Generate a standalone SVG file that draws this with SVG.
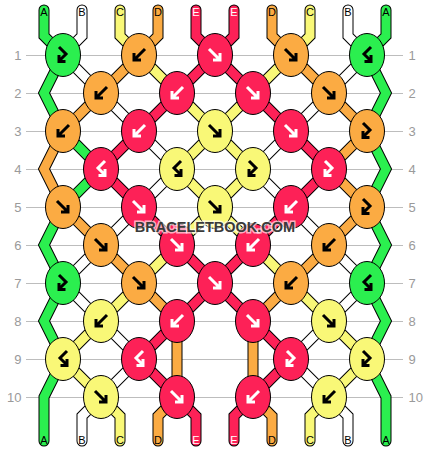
<svg xmlns="http://www.w3.org/2000/svg" xmlns:xlink="http://www.w3.org/1999/xlink" width="430" height="452" viewBox="0 0 430 452">
<style>
.grid{stroke:#bdbdbd;stroke-width:1}
.rn{font-family:"Liberation Sans",Arial,sans-serif;font-size:13px;fill:#9a9a9a}
.rl{text-anchor:end}
.lbl{font-family:"Liberation Sans",Arial,sans-serif;font-size:11px;text-anchor:middle;fill:#000}
.lw{fill:#fff}
.out{fill:none;stroke:#000;stroke-width:11;stroke-linecap:round;stroke-linejoin:miter}
.th{fill:none;stroke-width:9;stroke-linecap:round;stroke-linejoin:miter}
.cA{stroke:#2bef4f}.cB{stroke:#ffffff}.cC{stroke:#f9f877}.cD{stroke:#fbab43}.cE{stroke:#fd2157}
.k{stroke:#000;stroke-width:1}
.kA{fill:#2bef4f}.kC{fill:#f9f877}.kD{fill:#fbab43}.kE{fill:#fd2157}
.ab{fill:none;stroke:#000;stroke-width:3;stroke-linejoin:miter}
.aw{fill:none;stroke:#fff;stroke-width:3;stroke-linejoin:miter}
.wm{font-family:"Liberation Sans",Arial,sans-serif;font-weight:bold;font-size:14.5px;text-anchor:middle;fill:#3a3a3a;stroke:#fff;stroke-opacity:0.65;stroke-width:3;paint-order:stroke}
</style>
<defs>
<g id="f"><path d="M-6,-6 L4,4 M5,-2 V5 H-2"/></g>
<g id="b"><path d="M6,-6 L-4,4 M-5,-2 V5 H2"/></g>
<g id="fb"><path d="M-4,-8 L3,-1 L-3,5 M-4,0 V6.5 H2.5"/></g>
<g id="bf"><path d="M4,-8 L-3,-1 L3,5 M4,0 V6.5 H-2.5"/></g>
<path id="sA1" d="M44,10 V36 L63,55 L44,93 L63,131 L101,169 L63,207 L44,245 L63,283 L44,321 L63,359 L44,397 V441"/>
<path id="sB1" d="M82,10 V36 L63,55 L101,93 L139,131 L177,169 L139,207 L101,245 L63,283 L101,321 L139,359 L101,397 L82,416 V441"/>
<path id="sC1" d="M120,10 V36 L139,55 L177,93 L215,131 L253,169 L215,207 L177,245 L139,283 L101,321 L63,359 L101,397 L120,416 V441"/>
<path id="sD1" d="M158,10 V36 L139,55 L101,93 L63,131 L44,169 L63,207 L101,245 L139,283 L177,321 L177,397 L158,416 V441"/>
<path id="sE1" d="M196,10 V36 L215,55 L253,93 L291,131 L329,169 L291,207 L253,245 L215,283 L177,321 L139,359 L177,397 L196,416 V441"/>
<path id="sE2" d="M234,10 V36 L215,55 L177,93 L139,131 L101,169 L139,207 L177,245 L215,283 L253,321 L291,359 L253,397 L234,416 V441"/>
<path id="sD2" d="M272,10 V36 L291,55 L329,93 L367,131 L329,169 L367,207 L329,245 L291,283 L253,321 L253,397 L272,416 V441"/>
<path id="sC2" d="M310,10 V36 L291,55 L253,93 L215,131 L177,169 L215,207 L253,245 L291,283 L329,321 L367,359 L329,397 L310,416 V441"/>
<path id="sB2" d="M348,10 V36 L367,55 L329,93 L291,131 L253,169 L291,207 L329,245 L367,283 L329,321 L291,359 L329,397 L348,416 V441"/>
<path id="sA2" d="M386,10 V36 L367,55 L386,93 L367,131 L386,169 L367,207 L386,245 L367,283 L386,321 L367,359 L386,397 V441"/>
</defs>
<rect width="430" height="452" fill="#fff"/>
<g id="rows">
<path class="grid" d="M26,55.5 H403 M26,93.5 H403 M26,131.5 H403 M26,169.5 H403 M26,207.5 H403 M26,245.5 H403 M26,283.5 H403 M26,321.5 H403 M26,359.5 H403 M26,397.5 H403"/>
<text class="rn rl" x="21.5" y="60">1</text><text class="rn rl" x="21.5" y="98">2</text><text class="rn rl" x="21.5" y="136">3</text><text class="rn rl" x="21.5" y="174">4</text><text class="rn rl" x="21.5" y="212">5</text><text class="rn rl" x="21.5" y="250">6</text><text class="rn rl" x="21.5" y="288">7</text><text class="rn rl" x="21.5" y="326">8</text><text class="rn rl" x="21.5" y="364">9</text><text class="rn rl" x="21.5" y="402">10</text>
<text class="rn" x="408.5" y="60">1</text><text class="rn" x="408.5" y="98">2</text><text class="rn" x="408.5" y="136">3</text><text class="rn" x="408.5" y="174">4</text><text class="rn" x="408.5" y="212">5</text><text class="rn" x="408.5" y="250">6</text><text class="rn" x="408.5" y="288">7</text><text class="rn" x="408.5" y="326">8</text><text class="rn" x="408.5" y="364">9</text><text class="rn" x="408.5" y="402">10</text>
</g>
<g id="threads">
<use href="#sA1" class="out"/><use href="#sA1" class="th cA"/>
<use href="#sB1" class="out"/><use href="#sB1" class="th cB"/>
<use href="#sC1" class="out"/><use href="#sC1" class="th cC"/>
<use href="#sD1" class="out"/><use href="#sD1" class="th cD"/>
<use href="#sE1" class="out"/><use href="#sE1" class="th cE"/>
<use href="#sE2" class="out"/><use href="#sE2" class="th cE"/>
<use href="#sD2" class="out"/><use href="#sD2" class="th cD"/>
<use href="#sC2" class="out"/><use href="#sC2" class="th cC"/>
<use href="#sB2" class="out"/><use href="#sB2" class="th cB"/>
<use href="#sA2" class="out"/><use href="#sA2" class="th cA"/>
</g>
<g id="labels">
<text class="lbl" x="44" y="16">A</text><text class="lbl" x="82" y="16">B</text><text class="lbl" x="120" y="16">C</text><text class="lbl" x="158" y="16">D</text><text class="lbl lw" x="196" y="16">E</text><text class="lbl lw" x="234" y="16">E</text><text class="lbl" x="272" y="16">D</text><text class="lbl" x="310" y="16">C</text><text class="lbl" x="348" y="16">B</text><text class="lbl" x="386" y="16">A</text>
<text class="lbl" x="44" y="444">A</text><text class="lbl" x="82" y="444">B</text><text class="lbl" x="120" y="444">C</text><text class="lbl" x="158" y="444">D</text><text class="lbl lw" x="196" y="444">E</text><text class="lbl lw" x="234" y="444">E</text><text class="lbl" x="272" y="444">D</text><text class="lbl" x="310" y="444">C</text><text class="lbl" x="348" y="444">B</text><text class="lbl" x="386" y="444">A</text>
</g>
<g id="knots">
<g id="k1-1"><ellipse class="k kA" cx="63" cy="55" rx="17.5" ry="21.5"/><use href="#fb" class="ab" x="63" y="55"/></g>
<g id="k1-2"><ellipse class="k kD" cx="139" cy="55" rx="17.5" ry="21.5"/><use href="#b" class="ab" x="139" y="55"/></g>
<g id="k1-3"><ellipse class="k kE" cx="215" cy="55" rx="17.5" ry="21.5"/><use href="#f" class="aw" x="215" y="55"/></g>
<g id="k1-4"><ellipse class="k kD" cx="291" cy="55" rx="17.5" ry="21.5"/><use href="#f" class="ab" x="291" y="55"/></g>
<g id="k1-5"><ellipse class="k kA" cx="367" cy="55" rx="17.5" ry="21.5"/><use href="#bf" class="ab" x="367" y="55"/></g>
<g id="k2-1"><ellipse class="k kD" cx="101" cy="93" rx="17.5" ry="21.5"/><use href="#b" class="ab" x="101" y="93"/></g>
<g id="k2-2"><ellipse class="k kE" cx="177" cy="93" rx="17.5" ry="21.5"/><use href="#b" class="aw" x="177" y="93"/></g>
<g id="k2-3"><ellipse class="k kE" cx="253" cy="93" rx="17.5" ry="21.5"/><use href="#f" class="aw" x="253" y="93"/></g>
<g id="k2-4"><ellipse class="k kD" cx="329" cy="93" rx="17.5" ry="21.5"/><use href="#f" class="ab" x="329" y="93"/></g>
<g id="k3-1"><ellipse class="k kD" cx="63" cy="131" rx="17.5" ry="21.5"/><use href="#b" class="ab" x="63" y="131"/></g>
<g id="k3-2"><ellipse class="k kE" cx="139" cy="131" rx="17.5" ry="21.5"/><use href="#b" class="aw" x="139" y="131"/></g>
<g id="k3-3"><ellipse class="k kC" cx="215" cy="131" rx="17.5" ry="21.5"/><use href="#f" class="ab" x="215" y="131"/></g>
<g id="k3-4"><ellipse class="k kE" cx="291" cy="131" rx="17.5" ry="21.5"/><use href="#f" class="aw" x="291" y="131"/></g>
<g id="k3-5"><ellipse class="k kD" cx="367" cy="131" rx="17.5" ry="21.5"/><use href="#fb" class="ab" x="367" y="131"/></g>
<g id="k4-1"><ellipse class="k kE" cx="101" cy="169" rx="17.5" ry="21.5"/><use href="#bf" class="aw" x="101" y="169"/></g>
<g id="k4-2"><ellipse class="k kC" cx="177" cy="169" rx="17.5" ry="21.5"/><use href="#bf" class="ab" x="177" y="169"/></g>
<g id="k4-3"><ellipse class="k kC" cx="253" cy="169" rx="17.5" ry="21.5"/><use href="#fb" class="ab" x="253" y="169"/></g>
<g id="k4-4"><ellipse class="k kE" cx="329" cy="169" rx="17.5" ry="21.5"/><use href="#fb" class="aw" x="329" y="169"/></g>
<g id="k5-1"><ellipse class="k kD" cx="63" cy="207" rx="17.5" ry="21.5"/><use href="#f" class="ab" x="63" y="207"/></g>
<g id="k5-2"><ellipse class="k kE" cx="139" cy="207" rx="17.5" ry="21.5"/><use href="#f" class="aw" x="139" y="207"/></g>
<g id="k5-3"><ellipse class="k kC" cx="215" cy="207" rx="17.5" ry="21.5"/><use href="#f" class="ab" x="215" y="207"/></g>
<g id="k5-4"><ellipse class="k kE" cx="291" cy="207" rx="17.5" ry="21.5"/><use href="#b" class="aw" x="291" y="207"/></g>
<g id="k5-5"><ellipse class="k kD" cx="367" cy="207" rx="17.5" ry="21.5"/><use href="#fb" class="ab" x="367" y="207"/></g>
<g id="k6-1"><ellipse class="k kD" cx="101" cy="245" rx="17.5" ry="21.5"/><use href="#f" class="ab" x="101" y="245"/></g>
<g id="k6-2"><ellipse class="k kE" cx="177" cy="245" rx="17.5" ry="21.5"/><use href="#f" class="aw" x="177" y="245"/></g>
<g id="k6-3"><ellipse class="k kE" cx="253" cy="245" rx="17.5" ry="21.5"/><use href="#b" class="aw" x="253" y="245"/></g>
<g id="k6-4"><ellipse class="k kD" cx="329" cy="245" rx="17.5" ry="21.5"/><use href="#b" class="ab" x="329" y="245"/></g>
<g id="k7-1"><ellipse class="k kA" cx="63" cy="283" rx="17.5" ry="21.5"/><use href="#fb" class="ab" x="63" y="283"/></g>
<g id="k7-2"><ellipse class="k kD" cx="139" cy="283" rx="17.5" ry="21.5"/><use href="#f" class="ab" x="139" y="283"/></g>
<g id="k7-3"><ellipse class="k kE" cx="215" cy="283" rx="17.5" ry="21.5"/><use href="#f" class="aw" x="215" y="283"/></g>
<g id="k7-4"><ellipse class="k kD" cx="291" cy="283" rx="17.5" ry="21.5"/><use href="#b" class="ab" x="291" y="283"/></g>
<g id="k7-5"><ellipse class="k kA" cx="367" cy="283" rx="17.5" ry="21.5"/><use href="#bf" class="ab" x="367" y="283"/></g>
<g id="k8-1"><ellipse class="k kC" cx="101" cy="321" rx="17.5" ry="21.5"/><use href="#b" class="ab" x="101" y="321"/></g>
<g id="k8-2"><ellipse class="k kE" cx="177" cy="321" rx="17.5" ry="21.5"/><use href="#b" class="aw" x="177" y="321"/></g>
<g id="k8-3"><ellipse class="k kE" cx="253" cy="321" rx="17.5" ry="21.5"/><use href="#f" class="aw" x="253" y="321"/></g>
<g id="k8-4"><ellipse class="k kC" cx="329" cy="321" rx="17.5" ry="21.5"/><use href="#f" class="ab" x="329" y="321"/></g>
<g id="k9-1"><ellipse class="k kC" cx="63" cy="359" rx="17.5" ry="21.5"/><use href="#bf" class="ab" x="63" y="359"/></g>
<g id="k9-2"><ellipse class="k kE" cx="139" cy="359" rx="17.5" ry="21.5"/><use href="#bf" class="aw" x="139" y="359"/></g>
<g id="k9-4"><ellipse class="k kE" cx="291" cy="359" rx="17.5" ry="21.5"/><use href="#fb" class="aw" x="291" y="359"/></g>
<g id="k9-5"><ellipse class="k kC" cx="367" cy="359" rx="17.5" ry="21.5"/><use href="#fb" class="ab" x="367" y="359"/></g>
<g id="k10-1"><ellipse class="k kC" cx="101" cy="397" rx="17.5" ry="21.5"/><use href="#f" class="ab" x="101" y="397"/></g>
<g id="k10-2"><ellipse class="k kE" cx="177" cy="397" rx="17.5" ry="21.5"/><use href="#f" class="aw" x="177" y="397"/></g>
<g id="k10-3"><ellipse class="k kE" cx="253" cy="397" rx="17.5" ry="21.5"/><use href="#b" class="aw" x="253" y="397"/></g>
<g id="k10-4"><ellipse class="k kC" cx="329" cy="397" rx="17.5" ry="21.5"/><use href="#b" class="ab" x="329" y="397"/></g>
</g>
<text class="wm" x="215" y="232">BRACELETBOOK.COM</text>
</svg>
